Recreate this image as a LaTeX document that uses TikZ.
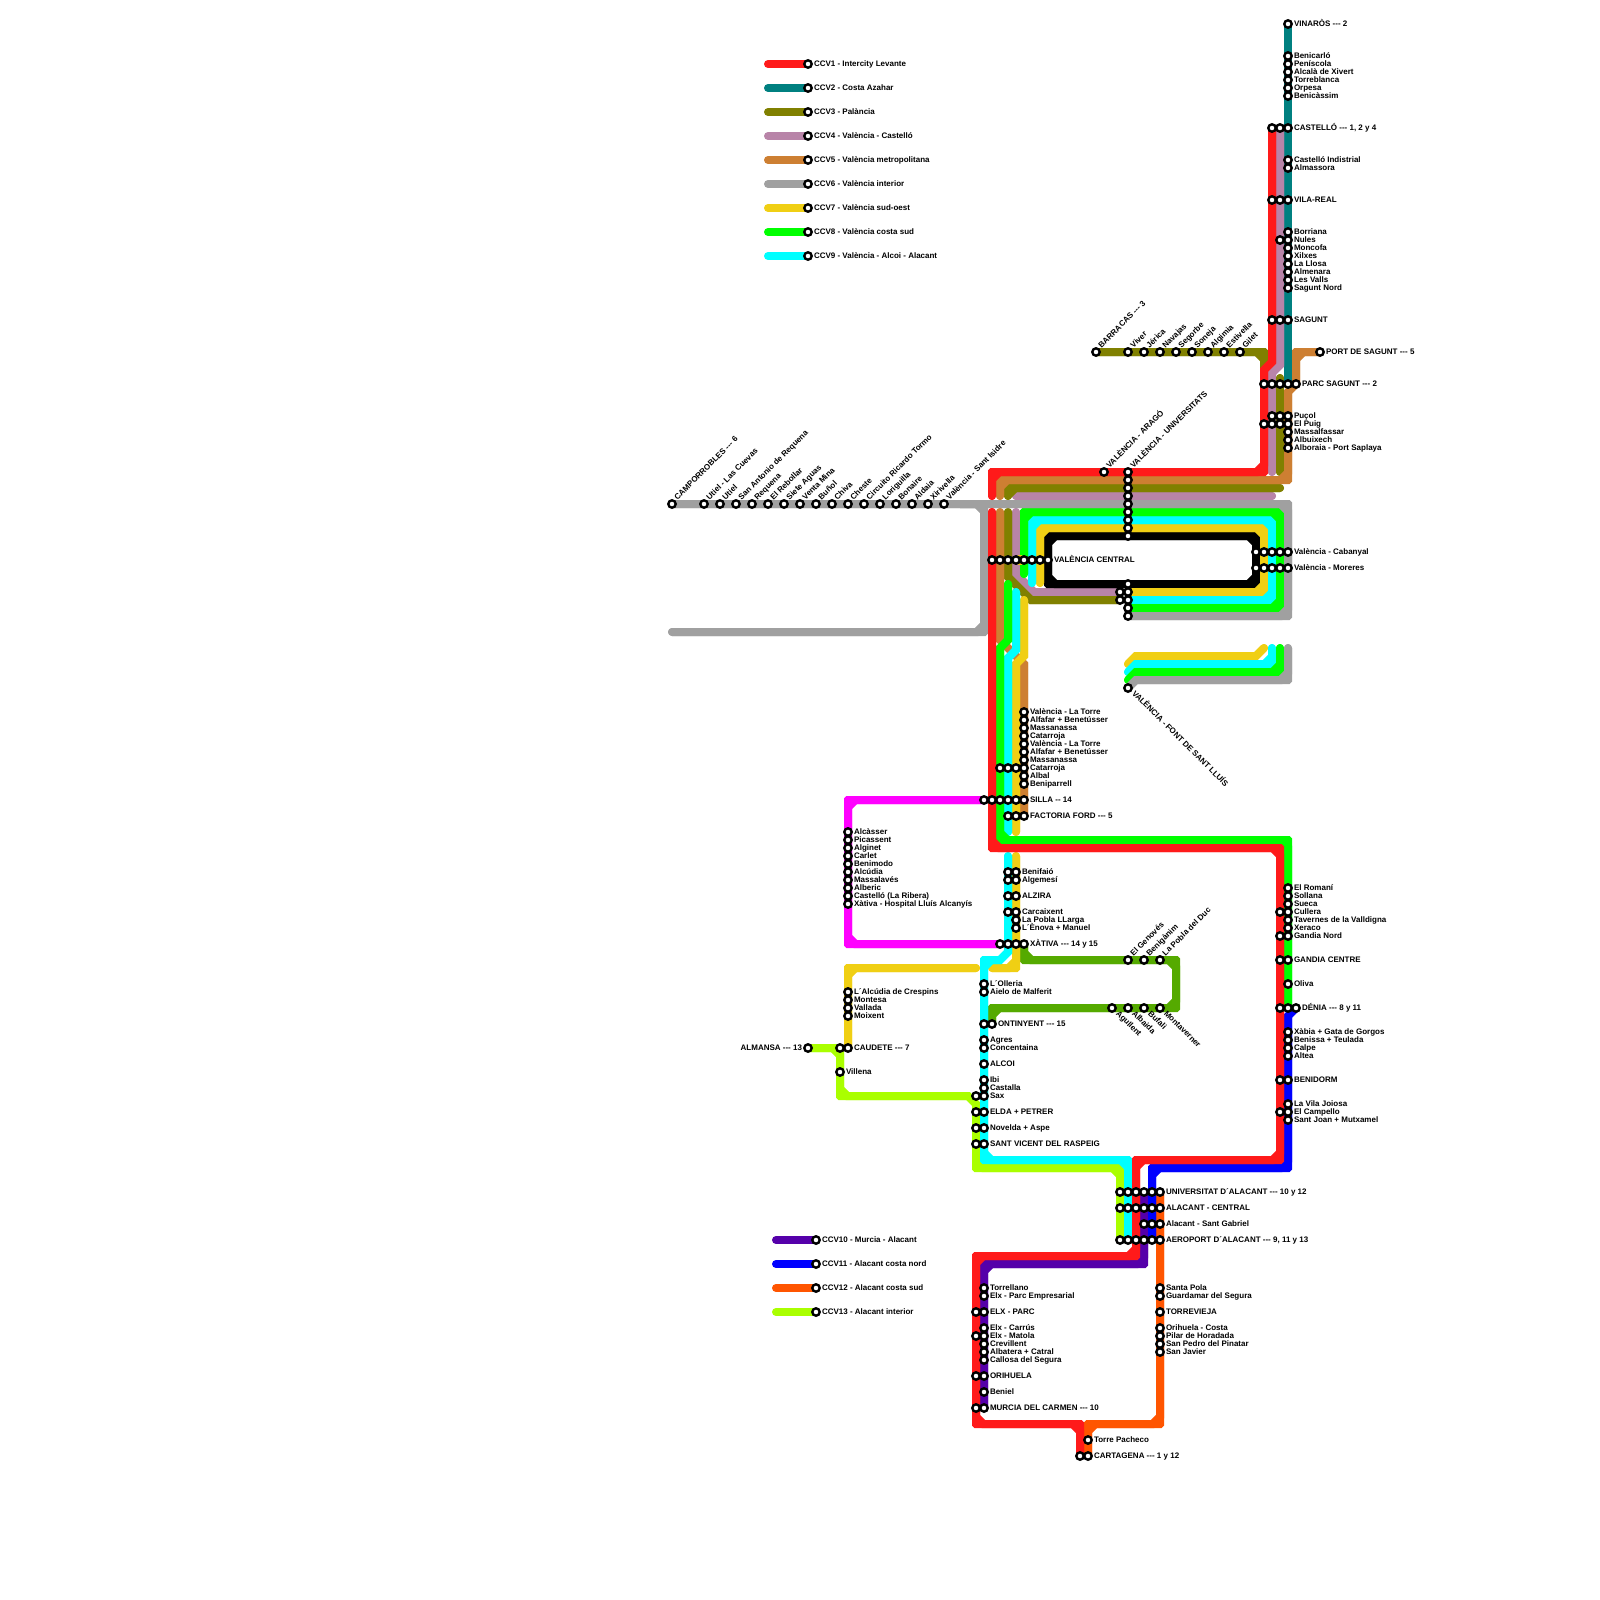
\documentclass[tikz,border=0pt]{standalone}
\usepackage{fontspec}
\setmainfont{Liberation Sans}
\usetikzlibrary{calc}
\definecolor{cRed}{HTML}{FF1A1A}
\definecolor{cTeal}{HTML}{008080}
\definecolor{cOlive}{HTML}{808000}
\definecolor{cMauve}{HTML}{B884A8}
\definecolor{cOrg}{HTML}{CD7F32}
\definecolor{cGray}{HTML}{A0A0A0}
\definecolor{cYel}{HTML}{F0CF14}
\definecolor{cGrn}{HTML}{00FF00}
\definecolor{cCya}{HTML}{00FFFF}
\definecolor{cPur}{HTML}{5500AA}
\definecolor{cBlu}{HTML}{0000FF}
\definecolor{cOra}{HTML}{FF5500}
\definecolor{cLim}{HTML}{AAFF00}
\definecolor{cMag}{HTML}{FF00FF}
\definecolor{cDgr}{HTML}{55AA00}
\tikzset{
  rail/.style={line width=8pt,line cap=round,line join=miter,miter limit=10},
  stn/.style={circle,draw=black,fill=white,line width=2.4pt,minimum size=7.4pt,inner sep=0pt,outer sep=0pt},
  lab/.style={anchor=base west,inner sep=0pt,outer sep=0pt,font=\fontsize{8}{9}\selectfont\bfseries,text=black},
  labr/.style={lab,anchor=base east},
}
\newcommand\dd{-{}-{}-}
\makeatletter
\newtoks\rt@t
\newif\ifrt@ax
\def\rt@first(#1)(#2)#3\rt@end{\rt@t={(#1)}\rt@step(#1)(#2)#3\rt@end}
\def\rt@step(#1)(#2)#3\rt@end{%
  \ifx\relax#3\relax
    \rt@t\expandafter{\the\rt@t -- (#2)}%
  \else
    \rt@mid(#1)(#2)#3\rt@end
  \fi}
\def\rt@mid(#1,#2)(#3,#4)(#5,#6)#7\rt@end{%
  \rt@axfalse
  \ifnum#1=#3 \ifnum#4=#6 \rt@axtrue\fi\fi
  \ifnum#2=#4 \ifnum#3=#5 \rt@axtrue\fi\fi
  \ifrt@ax
    \rt@t\expandafter{\the\rt@t -- ($(#3,#4)!\rt@c!(#1,#2)$) -- ($(#3,#4)!\rt@c!(#5,#6)$)}%
  \else
    \rt@t\expandafter{\the\rt@t -- (#3,#4)}%
  \fi
  \rt@step(#3,#4)(#5,#6)#7\rt@end}
% each route: one stroke gives the nearly square outer corners, one the cut inner corners
\newcommand\Rt[2]{%
  \def\rt@c{7.4pt}\rt@first#2\rt@end
  \edef\rt@go{\noexpand\draw[rail,#1] \the\rt@t;}\rt@go
  \def\rt@c{0.1pt}\rt@first#2\rt@end
  \edef\rt@go{\noexpand\draw[rail,#1] \the\rt@t;}\rt@go}
\makeatother
\newcounter{nn}
\newcommand\Stn[2]{\stepcounter{nn}\node[stn] (n\arabic{nn}) at (#1,#2) {};}
\newcommand\Lbl[3]{\stepcounter{nn}\node[lab] (n\arabic{nn}) at ($(#1,#2)+(6,2.4)$) {#3};}
\newcommand\SL[3]{\Stn{#1}{#2}\Lbl{#1}{#2}{#3}}
\newcommand\SU[3]{\Stn{#1}{#2}\stepcounter{nn}\node[lab,rotate=45] (n\arabic{nn}) at ($(#1,#2)+(5.6,-3.6)$) {#3};}
\newcommand\SD[3]{\Stn{#1}{#2}\stepcounter{nn}\node[lab,rotate=-45] (n\arabic{nn}) at ($(#1,#2)+(3.7,6)$) {#3};}
\begin{document}
\begin{tikzpicture}[x=1pt,y=-1pt]
\useasboundingbox (0,0) rectangle (1600,1600);
% legends
\foreach \c/\y in {cRed/64,cTeal/88,cOlive/112,cMauve/136,cOrg/160,cGray/184,cYel/208,cGrn/232,cCya/256}
  {\draw[rail,\c] (768,\y) -- (808,\y);}
\foreach \c/\y in {cPur/1240,cBlu/1264,cOra/1288,cLim/1312}
  {\draw[rail,\c] (776,\y) -- (816,\y);}
% magenta, lime
\Rt{cMag}{(984,800)(848,800)(848,944)(1000,944)}
\Rt{cLim}{(808,1048)(840,1048)(840,1096)(968,1096)(976,1104)(976,1168)(1120,1168)(1120,1240)}
% teal
\Rt{cTeal}{(1288,24)(1288,384)}
% mauve
\Rt{cMauve}{(1280,128)(1280,365)(1272,373)(1272,472)}
\Rt{cMauve}{(1016,496)(1272,496)}
\Rt{cMauve}{(1016,512)(1016,574)(1034,592)(1120,592)}
% olive
\Rt{cOlive}{(1096,352)(1264,352)(1264,368)}
\Rt{cOlive}{(1280,378)(1280,472)}
\Rt{cOlive}{(1008,496)(1008,488)(1280,488)}
\Rt{cOlive}{(1008,512)(1008,577)(1031,600)(1120,600)}
% orange-brown
\Rt{cOrg}{(1000,496)(1000,480)(1288,480)(1288,392)(1296,384)(1296,352)(1320,352)}
\Rt{cOrg}{(1000,512)(1000,640)(1024,664)(1024,816)}
% yellow other
\Rt{cYel}{(976,968)(848,968)(848,1048)}
% rings, inner to outer
\Rt{black}{(1100,536)(1256,536)(1256,584)(1048,584)(1048,536)(1100,536)}
\Rt{cYel}{(1040,583)(1040,528)(1264,528)(1264,592)(1128,592)}
\Rt{cCya}{(1032,583)(1032,520)(1272,520)(1272,600)(1128,600)}
\Rt{cGrn}{(1024,574)(1024,512)(1280,512)(1280,608)(1128,608)}
% Font de Sant Lluís branches
\Rt{cYel}{(1264,648)(1256,656)(1136,656)(1128,664)}
\Rt{cCya}{(1272,648)(1272,664)(1136,664)(1128,672)}
\Rt{cGrn}{(1280,648)(1280,672)(1136,672)(1128,680)}
% gray
\Rt{cGray}{(672,504)(1288,504)(1288,616)(1128,616)}
\Rt{cGray}{(960,504)(984,504)(984,632)(672,632)}
\Rt{cGray}{(1288,648)(1288,680)(1136,680)(1128,688)}
% south branches
\Rt{cYel}{(1024,600)(1024,656)(1016,664)(1016,832)}
\Rt{cCya}{(1016,592)(1016,650)(1008,658)(1008,832)}
\Rt{cGrn}{(1008,584)(1008,640)(1000,648)(1000,840)(1288,840)(1288,1008)}
\Rt{cDgr}{(1024,944)(1024,960)(1176,960)(1176,1008)(992,1008)(992,1024)}
\Rt{cYel}{(1016,856)(1016,968)(992,968)}
\Rt{cCya}{(1008,856)(1008,952)(1000,960)(984,960)(984,1160)(1128,1160)(1128,1240)}
% south
\Rt{cOra}{(1160,1192)(1160,1424)(1088,1424)(1088,1456)}
\Rt{cPur}{(1144,1192)(1144,1264)(984,1264)(984,1408)}
\Rt{cBlu}{(1296,1008)(1288,1016)(1288,1168)(1152,1168)(1152,1240)}
% red
\Rt{cRed}{(1272,128)(1272,362)(1264,370)(1264,472)(992,472)(992,496)}
\Rt{cRed}{(992,512)(992,848)(1280,848)(1280,1160)(1136,1160)(1136,1256)(976,1256)(976,1424)(1080,1424)(1080,1456)}
% tiny yellow stub behind the València Central row
\draw[line width=4pt,cYel] (1020,555) -- (1020,565);
% legend stations
\SL{808}{64}{CCV1 - Intercity Levante}
\SL{808}{88}{CCV2 - Costa Azahar}
\SL{808}{112}{CCV3 - Palància}
\SL{808}{136}{CCV4 - València - Castelló}
\SL{808}{160}{CCV5 - València metropolitana}
\SL{808}{184}{CCV6 - València interior}
\SL{808}{208}{CCV7 - València sud-oest}
\SL{808}{232}{CCV8 - València costa sud}
\SL{808}{256}{CCV9 - València - Alcoi - Alacant}
\SL{816}{1240}{CCV10 - Murcia - Alacant}
\SL{816}{1264}{CCV11 - Alacant costa nord}
\SL{816}{1288}{CCV12 - Alacant costa sud}
\SL{816}{1312}{CCV13 - Alacant interior}
% north coast
\SL{1288}{24}{VINARÒS \dd{} 2}
\SL{1288}{56}{Benicarló}
\SL{1288}{64}{Peníscola}
\SL{1288}{72}{Alcalà de Xivert}
\SL{1288}{80}{Torreblanca}
\SL{1288}{88}{Orpesa}
\SL{1288}{96}{Benicàssim}
\foreach \x/\y in {1272/128,1280/128,1272/200,1280/200,1280/240,1272/320,1280/320}{\Stn{\x}{\y}}
\SL{1288}{128}{CASTELLÓ \dd{} 1, 2 y 4}
\SL{1288}{160}{Castelló Indistrial}
\SL{1288}{168}{Almassora}
\SL{1288}{200}{VILA-REAL}
\SL{1288}{232}{Borriana}
\SL{1288}{240}{Nules}
\SL{1288}{248}{Moncofa}
\SL{1288}{256}{Xilxes}
\SL{1288}{264}{La Llosa}
\SL{1288}{272}{Almenara}
\SL{1288}{280}{Les Valls}
\SL{1288}{288}{Sagunt Nord}
\SL{1288}{320}{SAGUNT}
% Palància
\SU{1096}{352}{BARRACAS \dd{} 3}
\SU{1128}{352}{Viver}
\SU{1144}{352}{Jérica}
\SU{1160}{352}{Navajas}
\SU{1176}{352}{Segorbe}
\SU{1192}{352}{Soneja}
\SU{1208}{352}{Algimia}
\SU{1224}{352}{Estivella}
\SU{1240}{352}{Gilet}
\SL{1320}{352}{PORT DE SAGUNT \dd{} 5}
\foreach \x in {1264,1272,1280,1288}{\Stn{\x}{384}}
\SL{1296}{384}{PARC SAGUNT \dd{} 2}
\foreach \x/\y in {1272/416,1280/416,1264/424,1272/424,1280/424}{\Stn{\x}{\y}}
\SL{1288}{416}{Puçol}
\SL{1288}{424}{El Puig}
\SL{1288}{432}{Massalfassar}
\SL{1288}{440}{Albuixech}
\SL{1288}{448}{Alboraia - Port Saplaya}
% west line
\SU{672}{504}{CAMPORROBLES \dd{} 6}
\SU{704}{504}{Utiel - Las Cuevas}
\SU{720}{504}{Utiel}
\SU{736}{504}{San Antonio de Requena}
\SU{752}{504}{Requena}
\SU{768}{504}{El Rebollar}
\SU{784}{504}{Siete Aguas}
\SU{800}{504}{Venta Mina}
\SU{816}{504}{Buñol}
\SU{832}{504}{Chiva}
\SU{848}{504}{Cheste}
\SU{864}{504}{Circuito Ricardo Tormo}
\SU{880}{504}{Loriguilla}
\SU{896}{504}{Bonaire}
\SU{912}{504}{Aldaia}
\SU{928}{504}{Xirivella}
\SU{944}{504}{València - Sant Isidre}
% València
\SU{1104}{472}{VALÈNCIA - ARAGÓ}
\foreach \y in {536,528,520,512,504,496,488,480}{\Stn{1128}{\y}}
\SU{1128}{472}{VALÈNCIA - UNIVERSITATS}
\foreach \x in {992,1000,1008,1016,1024,1032,1040}{\Stn{\x}{560}}
\SL{1048}{560}{VALÈNCIA CENTRAL}
\foreach \x in {1256,1264,1272,1280}{\Stn{\x}{552}\Stn{\x}{568}}
\SL{1288}{552}{València - Cabanyal}
\SL{1288}{568}{València - Moreres}
\foreach \x/\y in {1128/584,1120/592,1128/592,1120/600,1128/600,1128/608,1128/616}{\Stn{\x}{\y}}
\SD{1128}{688}{VALÈNCIA - FONT DE SANT LLUÍS}
% south València
\foreach \x in {1000,1008,1016}{\Stn{\x}{768}}
\foreach \x in {984,992,1000,1008,1016}{\Stn{\x}{800}}
\foreach \x in {1008,1016}{\Stn{\x}{816}}
\SL{1024}{712}{València - La Torre}
\SL{1024}{720}{Alfafar + Benetússer}
\SL{1024}{728}{Massanassa}
\SL{1024}{736}{Catarroja}
\SL{1024}{744}{València - La Torre}
\SL{1024}{752}{Alfafar + Benetússer}
\SL{1024}{760}{Massanassa}
\SL{1024}{768}{Catarroja}
\SL{1024}{776}{Albal}
\SL{1024}{784}{Beniparrell}
\SL{1024}{800}{SILLA -{}- 14}
\SL{1024}{816}{FACTORIA FORD \dd{} 5}
\foreach \y in {872,880,896,912,944}{\Stn{1008}{\y}}
\Stn{1000}{944}
\SL{1016}{872}{Benifaió}
\SL{1016}{880}{Algemesí}
\SL{1016}{896}{ALZIRA}
\SL{1016}{912}{Carcaixent}
\SL{1016}{920}{La Pobla LLarga}
\SL{1016}{928}{L´Ènova + Manuel}
\Stn{1016}{944}
\SL{1024}{944}{XÀTIVA \dd{} 14 y 15}
% magenta
\SL{848}{832}{Alcàsser}
\SL{848}{840}{Picassent}
\SL{848}{848}{Alginet}
\SL{848}{856}{Carlet}
\SL{848}{864}{Benimodo}
\SL{848}{872}{Alcúdia}
\SL{848}{880}{Massalavés}
\SL{848}{888}{Alberic}
\SL{848}{896}{Castelló (La Ribera)}
\SL{848}{904}{Xàtiva - Hospital Lluís Alcanyís}
% dark green
\SU{1128}{960}{El Genovés}
\SU{1144}{960}{Benigànim}
\SU{1160}{960}{La Pobla del Duc}
\SD{1112}{1008}{Agullent}
\SD{1128}{1008}{Albaida}
\SD{1144}{1008}{Bufali}
\SD{1160}{1008}{Montaverner}
% cyan
\SL{984}{984}{L´Olleria}
\SL{984}{992}{Aielo de Malferit}
\Stn{984}{1024}
\SL{992}{1024}{ONTINYENT \dd{} 15}
\SL{984}{1040}{Agres}
\SL{984}{1048}{Concentaina}
\SL{984}{1064}{ALCOI}
\SL{984}{1080}{Ibi}
\SL{984}{1088}{Castalla}
\foreach \y in {1096,1112,1128,1144}{\Stn{976}{\y}}
\SL{984}{1096}{Sax}
\SL{984}{1112}{ELDA + PETRER}
\SL{984}{1128}{Novelda + Aspe}
\SL{984}{1144}{SANT VICENT DEL RASPEIG}
% yellow west
\SL{848}{992}{L´Alcúdia de Crespins}
\SL{848}{1000}{Montesa}
\SL{848}{1008}{Vallada}
\SL{848}{1016}{Moixent}
\Stn{840}{1048}
\SL{848}{1048}{CAUDETE \dd{} 7}
\SL{840}{1072}{Villena}
\Stn{808}{1048}
\stepcounter{nn}\node[labr] (n\arabic{nn}) at ($(808,1048)+(-6,2.4)$) {ALMANSA \dd{} 13};
% coast
\foreach \y in {912,936,960,1008,1080,1112}{\Stn{1280}{\y}}
\SL{1288}{888}{El Romaní}
\SL{1288}{896}{Sollana}
\SL{1288}{904}{Sueca}
\SL{1288}{912}{Cullera}
\SL{1288}{920}{Tavernes de la Valldigna}
\SL{1288}{928}{Xeraco}
\SL{1288}{936}{Gandia Nord}
\SL{1288}{960}{GANDIA CENTRE}
\SL{1288}{984}{Oliva}
\Stn{1288}{1008}
\SL{1296}{1008}{DÉNIA \dd{} 8 y 11}
\SL{1288}{1032}{Xàbia + Gata de Gorgos}
\SL{1288}{1040}{Benissa + Teulada}
\SL{1288}{1048}{Calpe}
\SL{1288}{1056}{Altea}
\SL{1288}{1080}{BENIDORM}
\SL{1288}{1104}{La Vila Joiosa}
\SL{1288}{1112}{El Campello}
\SL{1288}{1120}{Sant Joan + Mutxamel}
% Alacant
\foreach \x in {1120,1128,1136,1144,1152}{\Stn{\x}{1192}\Stn{\x}{1208}\Stn{\x}{1240}}
\Stn{1144}{1224}\Stn{1152}{1224}
\SL{1160}{1192}{UNIVERSITAT D´ALACANT \dd{} 10 y 12}
\SL{1160}{1208}{ALACANT - CENTRAL}
\SL{1160}{1224}{Alacant - Sant Gabriel}
\SL{1160}{1240}{AEROPORT D´ALACANT \dd{} 9, 11 y 13}
% Murcia
\foreach \y in {1312,1336,1376,1408}{\Stn{976}{\y}}
\SL{984}{1288}{Torrellano}
\SL{984}{1296}{Elx - Parc Empresarial}
\SL{984}{1312}{ELX - PARC}
\SL{984}{1328}{Elx - Carrús}
\SL{984}{1336}{Elx - Matola}
\SL{984}{1344}{Crevillent}
\SL{984}{1352}{Albatera + Catral}
\SL{984}{1360}{Callosa del Segura}
\SL{984}{1376}{ORIHUELA}
\SL{984}{1392}{Beniel}
\SL{984}{1408}{MURCIA DEL CARMEN \dd{} 10}
\SL{1160}{1288}{Santa Pola}
\SL{1160}{1296}{Guardamar del Segura}
\SL{1160}{1312}{TORREVIEJA}
\SL{1160}{1328}{Orihuela - Costa}
\SL{1160}{1336}{Pilar de Horadada}
\SL{1160}{1344}{San Pedro del Pinatar}
\SL{1160}{1352}{San Javier}
\SL{1088}{1440}{Torre Pacheco}
\Stn{1080}{1456}
\SL{1088}{1456}{CARTAGENA \dd{} 1 y 12}
\end{tikzpicture}
\end{document}
